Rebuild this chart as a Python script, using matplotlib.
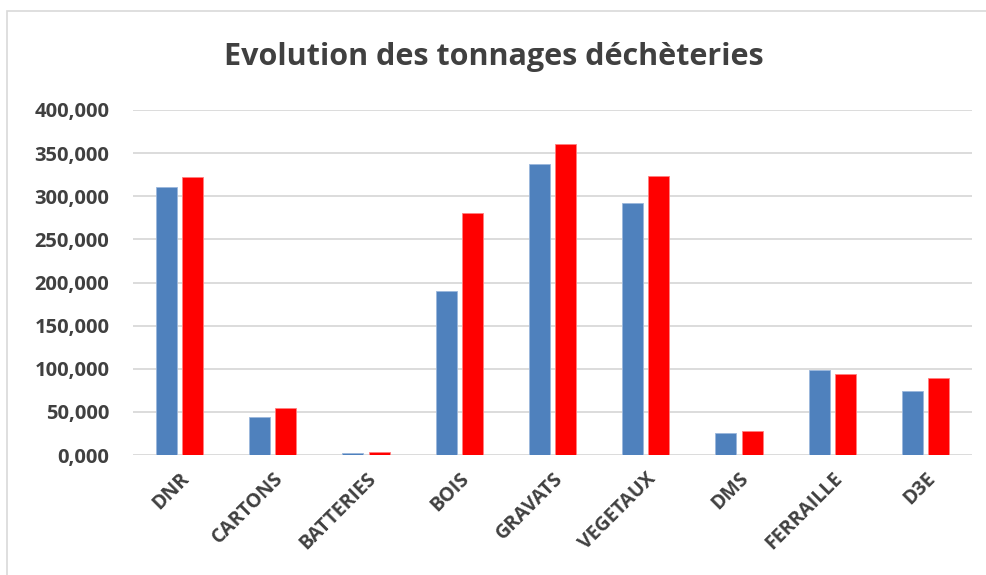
import matplotlib.pyplot as plt
import numpy as np
from matplotlib.ticker import FuncFormatter
from matplotlib.patches import Rectangle

# tonnages (French decimal comma, 3 decimals)
categories = ["DNR", "CARTONS", "BATTERIES", "BOIS", "GRAVATS",
              "VEGETAUX", "DMS", "FERRAILLE", "D3E"]
serie_1 = [311.0, 44.0, 2.3, 190.0, 337.0, 292.0, 25.0, 98.0, 74.0]
serie_2 = [322.0, 54.0, 3.9, 281.0, 361.0, 323.0, 27.5, 94.0, 89.0]
y_ticks = [0, 50, 100, 150, 200, 250, 300, 350, 400]

plt.rcParams['font.family'] = ['Open Sans', 'DejaVu Sans']
txt_color = '#404040'

fig = plt.figure(figsize=(9.87, 5.75), dpi=100)
ax = fig.add_axes([133/987, 1 - 455/575, (972-133)/987, (455-110)/575])

x = np.arange(len(categories))
w = 0.225
ax.bar(x - w/2 - 0.028, serie_1, width=w, color='#4f81bd', edgecolor='#9bb7dc', linewidth=0.6, zorder=3)
ax.bar(x + w/2 + 0.028, serie_2, width=w, color='#ff0000', edgecolor='#ff8080', linewidth=0.6, zorder=3)

ax.set_xlim(-0.5, len(categories) - 0.5)
ax.set_ylim(0, 400)
ax.set_yticks(y_ticks)
ax.yaxis.set_major_formatter(FuncFormatter(lambda v, p: f"{v:.3f}".replace('.', ',')))
ax.yaxis.grid(True, color='#d9d9d9', linewidth=1.3, zorder=0)
for s in ax.spines.values():
    s.set_visible(False)
ax.tick_params(axis='y', length=0, pad=17, labelsize=14.5, labelcolor=txt_color)
for lab in ax.get_yticklabels():
    lab.set_fontweight('bold')

ax.set_xticks(x)
ax.set_xticklabels(categories, rotation=45, ha='right', va='top',
                   rotation_mode='anchor', fontsize=14, fontweight='bold', color=txt_color)
ax.tick_params(axis='x', length=0, pad=10)

fig.text(0.5, 1 - 57/575, "Evolution des tonnages déchèteries", ha='center', va='center',
         fontsize=22, fontweight='bold', color=txt_color)

# chart area border (top and left visible in the original crop)
fig.patches.append(Rectangle((7/987, -0.1), 1.2, 1 - 11/575 + 0.1, transform=fig.transFigure,
                             fill=False, edgecolor='#d9d9d9', linewidth=1.2))

fig.savefig("out.png", dpi=100)
